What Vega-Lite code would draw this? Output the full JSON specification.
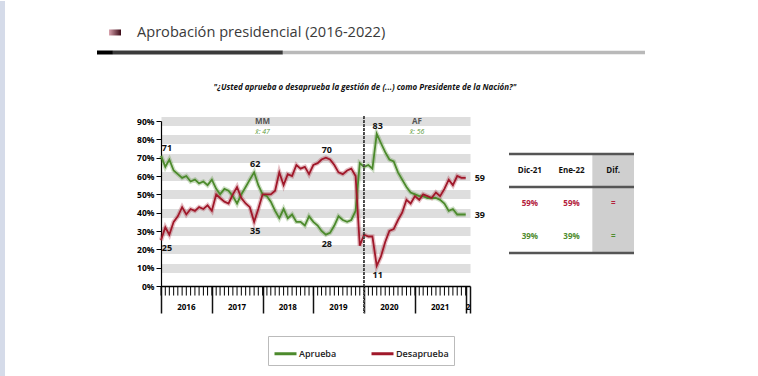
{
  "$schema": "https://vega.github.io/schema/vega-lite/v6.json",
  "background": "white",
  "padding": 0,
  "autosize": {"type": "pad"},
  "bounds": "flush",
  "spacing": 25,
  "config": {
    "view": {"stroke": null},
    "font": "Open Sans",
    "axis": {"labelFont": "Open Sans"},
    "legend": {"labelFont": "Open Sans"}
  },
  "vconcat": [
    {
      "width": 484,
      "height": 75,
      "data": {"values": [{"titulo": "Aprobación presidencial (2016-2022)", "pregunta": "\"¿Usted aprueba o desaprueba la gestión de (...) como Presidente de la Nación?\""}]},
      "layer": [
        {"mark": {"type": "rect", "color": "#d5dbe9"},
         "encoding": {
           "x": {"datum": -0.177, "type": "quantitative", "scale": {"domain": [0.11679, 1], "nice": false, "zero": false}, "axis": null},
           "x2": {"datum": -0.1679},
           "y": {"datum": 1.2667, "type": "quantitative", "scale": {"domain": [0, 1], "nice": false, "zero": false}, "axis": null},
           "y2": {"datum": -3.7467}}},
        {"mark": {"type": "rule", "color": "#b9b9b9", "strokeWidth": 3.5, "strokeCap": "butt"},
         "encoding": {"x": {"datum": 0.339, "type": "quantitative", "axis": null}, "x2": {"datum": 1}, "y": {"datum": 0.58, "type": "quantitative", "axis": null}}},
        {"mark": {"type": "rule", "color": "#3a3a3a", "strokeWidth": 4, "strokeCap": "butt"},
         "encoding": {"x": {"datum": 0.029, "type": "quantitative", "axis": null}, "x2": {"datum": 0.339}, "y": {"datum": 0.58, "type": "quantitative", "axis": null}}},
        {"mark": {"type": "rule", "color": "#000000", "strokeWidth": 4, "strokeCap": "butt"},
         "encoding": {"x": {"datum": 0, "type": "quantitative", "axis": null}, "x2": {"datum": 0.029}, "y": {"datum": 0.58, "type": "quantitative", "axis": null}}},
        {"mark": {"type": "rect", "color": {"gradient": "linear", "x1": 0, "x2": 1, "y1": 0, "y2": 0, "stops": [{"offset": 0, "color": "#d9a3ae"}, {"offset": 1, "color": "#3b0a16"}]}},
         "encoding": {"x": {"datum": 0.0219, "type": "quantitative", "axis": null}, "x2": {"datum": 0.0438}, "y": {"datum": 0.887, "type": "quantitative", "axis": null}, "y2": {"datum": 0.807}}},
        {"mark": {"type": "text", "align": "left", "baseline": "middle", "fontSize": 14.6, "color": "#3a3a3a", "font": "Open Sans"},
         "encoding": {"x": {"datum": 0.073, "type": "quantitative", "axis": null}, "y": {"datum": 0.844, "type": "quantitative", "axis": null}, "text": {"field": "titulo"}}},
        {"mark": {"type": "text", "align": "center", "baseline": "middle", "fontSize": 8, "fontStyle": "italic", "fontWeight": "bold", "color": "#111111", "font": "Open Sans"},
         "encoding": {"x": {"datum": 0.489, "type": "quantitative", "axis": null}, "y": {"datum": 0.103, "type": "quantitative", "axis": null}, "text": {"field": "pregunta"}}}
      ]
    },
    {
      "hconcat": [
        {
          "width": 309,
          "height": 165,
          "data": {"values": [
            {"fecha": "2016-01-01", "Aprueba": 71, "Desaprueba": 25},
            {"fecha": "2016-02-01", "Aprueba": 65, "Desaprueba": 32},
            {"fecha": "2016-03-01", "Aprueba": 69, "Desaprueba": 28},
            {"fecha": "2016-04-01", "Aprueba": 63, "Desaprueba": 35},
            {"fecha": "2016-05-01", "Aprueba": 61, "Desaprueba": 38},
            {"fecha": "2016-06-01", "Aprueba": 59, "Desaprueba": 43},
            {"fecha": "2016-07-01", "Aprueba": 60, "Desaprueba": 39},
            {"fecha": "2016-08-01", "Aprueba": 57, "Desaprueba": 42},
            {"fecha": "2016-09-01", "Aprueba": 58, "Desaprueba": 41},
            {"fecha": "2016-10-01", "Aprueba": 56, "Desaprueba": 43},
            {"fecha": "2016-11-01", "Aprueba": 57, "Desaprueba": 42},
            {"fecha": "2016-12-01", "Aprueba": 55, "Desaprueba": 44},
            {"fecha": "2017-01-01", "Aprueba": 58, "Desaprueba": 41},
            {"fecha": "2017-02-01", "Aprueba": 53, "Desaprueba": 50},
            {"fecha": "2017-03-01", "Aprueba": 50, "Desaprueba": 48},
            {"fecha": "2017-04-01", "Aprueba": 53, "Desaprueba": 46},
            {"fecha": "2017-05-01", "Aprueba": 52, "Desaprueba": 45},
            {"fecha": "2017-06-01", "Aprueba": 49, "Desaprueba": 50},
            {"fecha": "2017-07-01", "Aprueba": 45, "Desaprueba": 54},
            {"fecha": "2017-08-01", "Aprueba": 50, "Desaprueba": 48},
            {"fecha": "2017-09-01", "Aprueba": 54, "Desaprueba": 45},
            {"fecha": "2017-10-01", "Aprueba": 58, "Desaprueba": 43},
            {"fecha": "2017-11-01", "Aprueba": 62, "Desaprueba": 35},
            {"fecha": "2017-12-01", "Aprueba": 55, "Desaprueba": 42},
            {"fecha": "2018-01-01", "Aprueba": 50, "Desaprueba": 50},
            {"fecha": "2018-02-01", "Aprueba": 49, "Desaprueba": 50},
            {"fecha": "2018-03-01", "Aprueba": 46, "Desaprueba": 50},
            {"fecha": "2018-04-01", "Aprueba": 41, "Desaprueba": 52},
            {"fecha": "2018-05-01", "Aprueba": 37, "Desaprueba": 62},
            {"fecha": "2018-06-01", "Aprueba": 42, "Desaprueba": 55},
            {"fecha": "2018-07-01", "Aprueba": 37, "Desaprueba": 61},
            {"fecha": "2018-08-01", "Aprueba": 39, "Desaprueba": 60},
            {"fecha": "2018-09-01", "Aprueba": 35, "Desaprueba": 66},
            {"fecha": "2018-10-01", "Aprueba": 35, "Desaprueba": 64},
            {"fecha": "2018-11-01", "Aprueba": 33, "Desaprueba": 65},
            {"fecha": "2018-12-01", "Aprueba": 38, "Desaprueba": 61},
            {"fecha": "2019-01-01", "Aprueba": 35, "Desaprueba": 66},
            {"fecha": "2019-02-01", "Aprueba": 33, "Desaprueba": 67},
            {"fecha": "2019-03-01", "Aprueba": 30, "Desaprueba": 69},
            {"fecha": "2019-04-01", "Aprueba": 28, "Desaprueba": 70},
            {"fecha": "2019-05-01", "Aprueba": 29, "Desaprueba": 69},
            {"fecha": "2019-06-01", "Aprueba": 33, "Desaprueba": 66},
            {"fecha": "2019-07-01", "Aprueba": 38, "Desaprueba": 62},
            {"fecha": "2019-08-01", "Aprueba": 36, "Desaprueba": 61},
            {"fecha": "2019-09-01", "Aprueba": 35, "Desaprueba": 63},
            {"fecha": "2019-10-01", "Aprueba": 36, "Desaprueba": 64},
            {"fecha": "2019-11-01", "Aprueba": 41, "Desaprueba": 60},
            {"fecha": "2019-12-01", "Aprueba": 67, "Desaprueba": 22},
            {"fecha": "2020-01-01", "Aprueba": 65, "Desaprueba": 28},
            {"fecha": "2020-02-01", "Aprueba": 66, "Desaprueba": 27},
            {"fecha": "2020-03-01", "Aprueba": 64, "Desaprueba": 27},
            {"fecha": "2020-04-01", "Aprueba": 83, "Desaprueba": 11},
            {"fecha": "2020-05-01", "Aprueba": 78, "Desaprueba": 16},
            {"fecha": "2020-06-01", "Aprueba": 73, "Desaprueba": 24},
            {"fecha": "2020-07-01", "Aprueba": 69, "Desaprueba": 30},
            {"fecha": "2020-08-01", "Aprueba": 68, "Desaprueba": 31},
            {"fecha": "2020-09-01", "Aprueba": 62, "Desaprueba": 36},
            {"fecha": "2020-10-01", "Aprueba": 58, "Desaprueba": 40},
            {"fecha": "2020-11-01", "Aprueba": 54, "Desaprueba": 47},
            {"fecha": "2020-12-01", "Aprueba": 51, "Desaprueba": 45},
            {"fecha": "2021-01-01", "Aprueba": 50, "Desaprueba": 49},
            {"fecha": "2021-02-01", "Aprueba": 49, "Desaprueba": 47},
            {"fecha": "2021-03-01", "Aprueba": 49, "Desaprueba": 50},
            {"fecha": "2021-04-01", "Aprueba": 48, "Desaprueba": 49},
            {"fecha": "2021-05-01", "Aprueba": 48, "Desaprueba": 48},
            {"fecha": "2021-06-01", "Aprueba": 48, "Desaprueba": 51},
            {"fecha": "2021-07-01", "Aprueba": 47, "Desaprueba": 49},
            {"fecha": "2021-08-01", "Aprueba": 45, "Desaprueba": 53},
            {"fecha": "2021-09-01", "Aprueba": 41, "Desaprueba": 58},
            {"fecha": "2021-10-01", "Aprueba": 42, "Desaprueba": 55},
            {"fecha": "2021-11-01", "Aprueba": 39, "Desaprueba": 60},
            {"fecha": "2021-12-01", "Aprueba": 39, "Desaprueba": 59},
            {"fecha": "2022-01-01", "Aprueba": 39, "Desaprueba": 59}
          ]},
          "transform": [{"fold": ["Aprueba", "Desaprueba"], "as": ["serie", "valor"]}],
          "layer": [
            {
              "mark": {"type": "line", "strokeWidth": 4.5, "opacity": 0.28},
              "encoding": {
                "x": {"field": "fecha", "type": "temporal",
                      "scale": {"domain": [{"year": 2016, "month": 1, "date": 1}, {"year": 2022, "month": 2, "date": 1}], "nice": false},
                      "axis": {"orient": "bottom", "title": null, "labels": false, "grid": false, "domain": true, "domainColor": "#000000", "domainWidth": 1.5,
                               "values": [{"year": 2016, "month": 1, "date": 1}, {"year": 2017, "month": 1, "date": 1}, {"year": 2018, "month": 1, "date": 1},
                                          {"year": 2019, "month": 1, "date": 1}, {"year": 2020, "month": 1, "date": 1}, {"year": 2021, "month": 1, "date": 1},
                                          {"year": 2022, "month": 1, "date": 1}, {"year": 2022, "month": 2, "date": 1}],
                               "tickSize": 27, "tickWidth": 1.5, "tickColor": "#111111"}},
                "y": {"field": "valor", "type": "quantitative", "title": null,
                      "scale": {"domain": [0, 90], "nice": false, "zero": true},
                      "axis": {"values": [0, 10, 20, 30, 40, 50, 60, 70, 80, 90], "tickCount": 10, "labelExpr": "datum.value + '%'",
                               "labelFontSize": 8.5, "labelFontWeight": "bold", "labelColor": "#000000", "labelPadding": 2, "labelOverlap": false,
                               "tickSize": 5, "tickColor": "#000000", "domainColor": "#000000", "domainWidth": 1.2,
                               "grid": true, "gridWidth": 9,
                               "gridColor": {"condition": {"test": "datum.value === 0", "value": "transparent"}, "value": "#dedede"}}},
                "color": {"field": "serie", "type": "nominal",
                          "scale": {"domain": ["Aprueba", "Desaprueba"], "range": ["#4c8a2c", "#a0182a"]},
                          "legend": {"orient": "none", "legendX": 107, "legendY": 315, "direction": "horizontal", "title": null,
                                     "symbolType": "stroke", "symbolSize": 484, "symbolStrokeWidth": 3, "symbolOpacity": 1,
                                     "labelFontSize": 9, "labelFontWeight": 600, "labelColor": "#222222", "labelOffset": 1,
                                     "strokeColor": "#bbbbbb", "fillColor": "#ffffff", "padding": 5, "columnPadding": 28}}
              }
            },
            {
              "mark": {"type": "line", "strokeWidth": 1.8},
              "encoding": {
                "x": {"field": "fecha", "type": "temporal"},
                "y": {"field": "valor", "type": "quantitative", "title": null},
                "color": {"field": "serie", "type": "nominal"}
              }
            },
            {
              "transform": [{"filter": "datum.serie == 'Aprueba'"}],
              "mark": {"type": "rule", "color": "#000000", "strokeWidth": 1},
              "encoding": {
                "x": {"field": "fecha", "type": "temporal"},
                "y": {"datum": 0, "type": "quantitative"},
                "y2": {"datum": -5.2}
              }
            },
            {
              "mark": {"type": "rule", "strokeDash": [2, 2], "color": "#555555", "strokeWidth": 1},
              "encoding": {
                "x": {"datum": {"year": 2020, "month": 1, "date": 1}, "type": "temporal"},
                "y": {"datum": 92.7, "type": "quantitative"},
                "y2": {"datum": -14.7}
              }
            },
            {
              "data": {"values": [
                {"anio": "2016", "fecha": "2016-07-01"},
                {"anio": "2017", "fecha": "2017-07-01"},
                {"anio": "2018", "fecha": "2018-07-01"},
                {"anio": "2019", "fecha": "2019-07-01"},
                {"anio": "2020", "fecha": "2020-07-01"},
                {"anio": "2021", "fecha": "2021-07-01"},
                {"anio": "2", "fecha": "2022-01-17"}
              ]},
              "mark": {"type": "text", "fontSize": 8, "fontWeight": "bold", "color": "#000000", "baseline": "middle"},
              "encoding": {
                "x": {"field": "fecha", "type": "temporal"},
                "y": {"datum": -12, "type": "quantitative"},
                "text": {"field": "anio"}
              }
            },
            {
              "data": {"values": [{"gobierno": "MM", "fecha": "2018-01-01", "media": "x̄: 47"}, {"gobierno": "AF", "fecha": "2021-01-16", "media": "x̄: 56"}]},
              "mark": {"type": "text", "fontSize": 8, "fontWeight": "bold", "color": "#555555", "dy": 1, "baseline": "middle"},
              "encoding": {
                "x": {"field": "fecha", "type": "temporal"},
                "y": {"datum": 90, "type": "quantitative"},
                "text": {"field": "gobierno"}
              }
            },
            {
              "data": {"values": [{"gobierno": "MM", "fecha": "2018-01-01", "media": "x̄: 47"}, {"gobierno": "AF", "fecha": "2021-01-16", "media": "x̄: 56"}]},
              "mark": {"type": "text", "fontSize": 7, "fontStyle": "italic", "color": "#5c9a3a", "dy": 11, "baseline": "middle"},
              "encoding": {
                "x": {"field": "fecha", "type": "temporal"},
                "y": {"datum": 90, "type": "quantitative"},
                "text": {"field": "media"}
              }
            },
            {
              "data": {"values": [
                {"fecha": "2016-01-01", "valor": 71, "etiq": "max"},
                {"fecha": "2016-01-01", "valor": 25, "etiq": "min"},
                {"fecha": "2017-11-01", "valor": 62, "etiq": "max"},
                {"fecha": "2017-11-01", "valor": 35, "etiq": "min"},
                {"fecha": "2019-04-01", "valor": 70, "etiq": "max"},
                {"fecha": "2019-04-01", "valor": 28, "etiq": "min"},
                {"fecha": "2020-04-01", "valor": 83, "etiq": "max"},
                {"fecha": "2020-04-01", "valor": 11, "etiq": "min"},
                {"fecha": "2022-01-01", "valor": 59, "etiq": "fin"},
                {"fecha": "2022-01-01", "valor": 39, "etiq": "fin"}
              ]},
              "layer": [
                {
                  "transform": [{"filter": "datum.etiq == 'max' && utcyear(datum.fecha) > 2016"}],
                  "mark": {"type": "text", "fontSize": 9, "fontWeight": "bold", "color": "#111111", "dy": -8, "dx": 1},
                  "encoding": {"x": {"field": "fecha", "type": "temporal"}, "y": {"field": "valor", "type": "quantitative", "title": null}, "text": {"field": "valor"}}
                },
                {
                  "transform": [{"filter": "datum.etiq == 'min' && utcyear(datum.fecha) > 2016"}],
                  "mark": {"type": "text", "fontSize": 9, "fontWeight": "bold", "color": "#111111", "dy": 9, "dx": 1},
                  "encoding": {"x": {"field": "fecha", "type": "temporal"}, "y": {"field": "valor", "type": "quantitative", "title": null}, "text": {"field": "valor"}}
                },
                {
                  "transform": [{"filter": "datum.etiq == 'max' && utcyear(datum.fecha) == 2016"}],
                  "mark": {"type": "text", "fontSize": 9, "fontWeight": "bold", "color": "#111111", "dy": -8, "dx": 6},
                  "encoding": {"x": {"field": "fecha", "type": "temporal"}, "y": {"field": "valor", "type": "quantitative", "title": null}, "text": {"field": "valor"}}
                },
                {
                  "transform": [{"filter": "datum.etiq == 'min' && utcyear(datum.fecha) == 2016"}],
                  "mark": {"type": "text", "fontSize": 9, "fontWeight": "bold", "color": "#111111", "dy": 8, "dx": 6},
                  "encoding": {"x": {"field": "fecha", "type": "temporal"}, "y": {"field": "valor", "type": "quantitative", "title": null}, "text": {"field": "valor"}}
                },
                {
                  "transform": [{"filter": "datum.etiq == 'fin'"}],
                  "mark": {"type": "text", "fontSize": 9, "fontWeight": "bold", "color": "#111111", "align": "left", "dx": 9},
                  "encoding": {"x": {"field": "fecha", "type": "temporal"}, "y": {"field": "valor", "type": "quantitative", "title": null}, "text": {"field": "valor"}}
                }
              ]
            }
          ]
        },
        {
          "width": 125,
          "height": 165,
          "data": {"values": [
            {"fila": "Encabezado", "columna": "Dic-21", "texto": "Dic-21"},
            {"fila": "Encabezado", "columna": "Ene-22", "texto": "Ene-22"},
            {"fila": "Encabezado", "columna": "Dif.", "texto": "Dif."},
            {"fila": "Desaprueba", "columna": "Dic-21", "texto": "59%"},
            {"fila": "Desaprueba", "columna": "Ene-22", "texto": "59%"},
            {"fila": "Desaprueba", "columna": "Dif.", "texto": "="},
            {"fila": "Aprueba", "columna": "Dic-21", "texto": "39%"},
            {"fila": "Aprueba", "columna": "Ene-22", "texto": "39%"},
            {"fila": "Aprueba", "columna": "Dif.", "texto": "="}
          ]},
          "layer": [
            {
              "transform": [{"filter": "datum.columna == 'Dif.'"}],
              "mark": {"type": "rect", "color": "#cfcfcf"},
              "encoding": {
                "x": {"field": "columna", "type": "nominal", "scale": {"domain": ["Dic-21", "Ene-22", "Dif."], "paddingInner": 0, "paddingOuter": 0}, "axis": null},
                "y": {"field": "fila", "type": "nominal", "scale": {"domain": ["Encabezado", "Desaprueba", "Aprueba"], "paddingInner": 0, "paddingOuter": 1}, "axis": null}
              }
            },
            {
              "transform": [{"filter": "datum.columna == 'Dic-21' && datum.fila != 'Aprueba'"}],
              "mark": {"type": "rule", "color": "#555555", "strokeWidth": 2.5},
              "encoding": {"y": {"field": "fila", "type": "nominal", "bandPosition": 0, "axis": null}}
            },
            {
              "transform": [{"filter": "datum.columna == 'Dic-21' && datum.fila == 'Aprueba'"}],
              "mark": {"type": "rule", "color": "#555555", "strokeWidth": 2.5},
              "encoding": {"y": {"field": "fila", "type": "nominal", "bandPosition": 1, "axis": null}}
            },
            {
              "transform": [{"filter": "datum.fila == 'Encabezado'"}],
              "mark": {"type": "text", "fontSize": 8, "fontWeight": "bold", "color": "#111111"},
              "encoding": {"x": {"field": "columna", "type": "nominal", "axis": null}, "y": {"field": "fila", "type": "nominal", "axis": null}, "text": {"field": "texto"}}
            },
            {
              "transform": [{"filter": "datum.fila == 'Desaprueba'"}],
              "mark": {"type": "text", "fontSize": 8, "fontWeight": "bold", "color": "#b3203c"},
              "encoding": {"x": {"field": "columna", "type": "nominal", "axis": null}, "y": {"field": "fila", "type": "nominal", "axis": null}, "text": {"field": "texto"}}
            },
            {
              "transform": [{"filter": "datum.fila == 'Aprueba'"}],
              "mark": {"type": "text", "fontSize": 8, "fontWeight": "bold", "color": "#4f8c2e"},
              "encoding": {"x": {"field": "columna", "type": "nominal", "axis": null}, "y": {"field": "fila", "type": "nominal", "axis": null}, "text": {"field": "texto"}}
            }
          ]
        }
      ],
      "spacing": 39,
      "bounds": "flush"
    }
  ]
}
